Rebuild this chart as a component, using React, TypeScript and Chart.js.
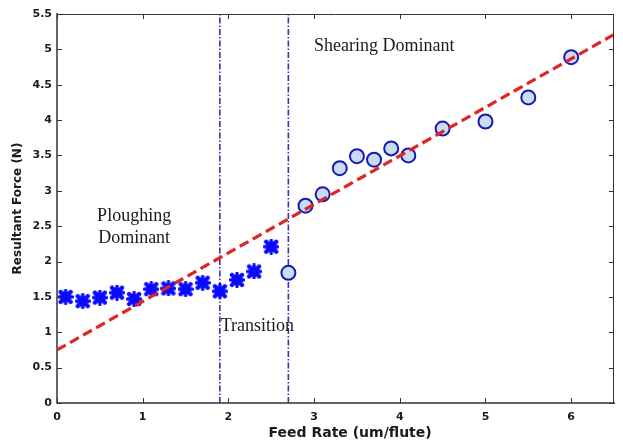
import React, { useEffect, useRef } from "react";
import { Chart, registerables } from "chart.js";

Chart.register(...registerables);

// Ploughing-dominant region (cross markers)
const ploughX = [0.1, 0.3, 0.5, 0.7, 0.9, 1.1, 1.3, 1.5, 1.7, 1.9, 2.1, 2.3, 2.5];
const ploughY = [1.5, 1.44, 1.49, 1.56, 1.47, 1.61, 1.62, 1.61, 1.7, 1.58, 1.74, 1.86, 2.21];

// Shearing-dominant region (circle markers)
const shearX = [2.7, 2.9, 3.1, 3.3, 3.5, 3.7, 3.9, 4.1, 4.5, 5.0, 5.5, 6.0];
const shearY = [1.84, 2.79, 2.95, 3.32, 3.49, 3.44, 3.6, 3.5, 3.88, 3.98, 4.32, 4.89];

// Linear fit (red dashed)
const fitX = [0, 6.5];
const fitY = [0.75, 5.21];

// Region boundaries
const boundaryX = [1.9, 2.7];

const xTickValues = [0, 1, 2, 3, 4, 5, 6];
const yTickValues = [0, 0.5, 1, 1.5, 2, 2.5, 3, 3.5, 4, 4.5, 5, 5.5];

const xTitle = "Feed Rate (um/flute)";
const yTitle = "Resultant Force (N)";

const regionLabels = [
  { lines: ["Shearing Dominant"], x: 3.0, y: 5.04, align: "left" },
  { lines: ["Ploughing", "Dominant"], x: 0.9, y: 2.64, align: "center" },
  { lines: ["Transition"], x: 1.91, y: 1.08, align: "left" },
];

function makeCrossMarker(): HTMLCanvasElement {
  const c = document.createElement("canvas");
  c.width = 16;
  c.height = 16;
  const g = c.getContext("2d")!;
  g.fillStyle = "#0a0aff";
  g.strokeStyle = "#0a0aff";
  g.beginPath();
  g.arc(8, 8, 5, 0, Math.PI * 2);
  g.fill();
  g.lineCap = "round";
  g.lineWidth = 4.4;
  g.beginPath();
  g.moveTo(3, 3);
  g.lineTo(13, 13);
  g.moveTo(13, 3);
  g.lineTo(3, 13);
  g.stroke();
  g.lineWidth = 3.4;
  g.beginPath();
  g.moveTo(8, 1.6);
  g.lineTo(8, 14.4);
  g.moveTo(1.6, 8);
  g.lineTo(14.4, 8);
  g.stroke();
  return c;
}

const decorPlugin = {
  id: "decor",
  afterDatasetsDraw(chart: any) {
    const ctx = chart.ctx;
    const xs = chart.scales.x;
    const ys = chart.scales.y;
    ctx.save();
    ctx.fillStyle = "#1a1a1a";
    ctx.font = '18px "Liberation Serif", "Times New Roman", serif';
    ctx.textBaseline = "middle";
    regionLabels.forEach((l) => {
      ctx.textAlign = l.align as CanvasTextAlign;
      const px = xs.getPixelForValue(l.x);
      const py = ys.getPixelForValue(l.y);
      l.lines.forEach((t, i) => ctx.fillText(t, px, py + i * 22));
    });
    ctx.restore();
  },
  afterDraw(chart: any) {
    const ctx = chart.ctx;
    const { left, right, top, bottom } = chart.chartArea;
    const xs = chart.scales.x;
    const ys = chart.scales.y;
    ctx.save();
    ctx.strokeStyle = "#333";
    ctx.lineWidth = 1;
    ctx.beginPath();
    ctx.moveTo(left, top + 0.5);
    ctx.lineTo(right, top + 0.5);
    ctx.moveTo(right - 0.5, top);
    ctx.lineTo(right - 0.5, bottom);
    const tl = 5;
    xTickValues.forEach((v) => {
      const px = Math.round(xs.getPixelForValue(v)) + 0.5;
      ctx.moveTo(px, bottom);
      ctx.lineTo(px, bottom - tl);
      ctx.moveTo(px, top);
      ctx.lineTo(px, top + tl);
    });
    yTickValues.forEach((v) => {
      const py = Math.round(ys.getPixelForValue(v)) + 0.5;
      ctx.moveTo(left, py);
      ctx.lineTo(left + tl, py);
      ctx.moveTo(right, py);
      ctx.lineTo(right - tl, py);
    });
    ctx.stroke();
    ctx.restore();
  },
};

export default function App() {
  const ref = useRef<HTMLCanvasElement>(null);

  useEffect(() => {
    if (!ref.current) return;
    const cross = makeCrossMarker();
    const tickFont = { family: '"DejaVu Sans", sans-serif', size: 11, weight: "bold" as const };

    const boundarySets = boundaryX.map((bx) => ({
      type: "line" as const,
      data: [
        { x: bx, y: 0 },
        { x: bx, y: 5.5 },
      ],
      borderColor: "#3434b0",
      borderWidth: 1.6,
      borderDash: [6, 2, 1.5, 2],
      pointRadius: 0,
      fill: false,
      order: 3,
    }));

    const chart = new Chart(ref.current, {
      type: "scatter",
      data: {
        datasets: [
          ...boundarySets,
          {
            data: ploughX.map((x, i) => ({ x, y: ploughY[i] })),
            pointStyle: cross as any,
            pointRadius: 8,
            order: 2,
          },
          {
            data: shearX.map((x, i) => ({ x, y: shearY[i] })),
            pointStyle: "circle",
            pointRadius: 7,
            borderWidth: 2,
            borderColor: "#1818b0",
            backgroundColor: "#c9dcf4",
            order: 2,
          },
          {
            type: "line" as const,
            data: fitX.map((x, i) => ({ x, y: fitY[i] })),
            borderColor: "#e02424",
            borderWidth: 3.2,
            borderDash: [10, 5],
            pointRadius: 0,
            fill: false,
            order: 1,
          },
        ] as any,
      },
      options: {
        responsive: false,
        animation: false,
        events: [],
        layout: { padding: { top: 14, right: 4.5, left: 0, bottom: 0 } },
        plugins: { legend: { display: false }, tooltip: { enabled: false } },
        scales: {
          x: {
            type: "linear",
            min: 0,
            max: 6.5,
            afterBuildTicks: (s: any) => {
              s.ticks = xTickValues.map((v) => ({ value: v }));
            },
            afterFit: (s: any) => {
              s.height = 39;
            },
            grid: { display: false, drawTicks: false },
            border: { color: "#666", width: 2 },
            ticks: {
              padding: 8,
              color: "#1a1a1a",
              font: tickFont,
              callback: (v: any) => String(v),
            },
            title: {
              display: true,
              text: "      " + xTitle,
              color: "#1a1a1a",
              font: { family: '"DejaVu Sans", sans-serif', size: 14, weight: "bold" as const },
              padding: { top: 0, bottom: 0.5 },
            },
          },
          y: {
            type: "linear",
            min: 0,
            max: 5.5,
            afterBuildTicks: (s: any) => {
              s.ticks = yTickValues.map((v) => ({ value: v }));
            },
            afterFit: (s: any) => {
              s.width = 57;
            },
            grid: { display: false, drawTicks: false },
            border: { color: "#666", width: 2 },
            ticks: {
              padding: 5,
              color: "#1a1a1a",
              font: tickFont,
              callback: (v: any) => String(v),
            },
            title: {
              display: true,
              text: yTitle,
              color: "#1a1a1a",
              font: { family: '"DejaVu Sans", sans-serif', size: 12, weight: "bold" as const },
              padding: { top: 11, bottom: 0 },
            },
          },
        },
      },
      plugins: [decorPlugin],
    });
    return () => chart.destroy();
  }, []);

  return (
    <div style={{ position: "absolute", left: 0, top: 0, width: 623, height: 442, background: "#fff" }}>
      <canvas ref={ref} width={623} height={442} style={{ display: "block" }} />
    </div>
  );
}
